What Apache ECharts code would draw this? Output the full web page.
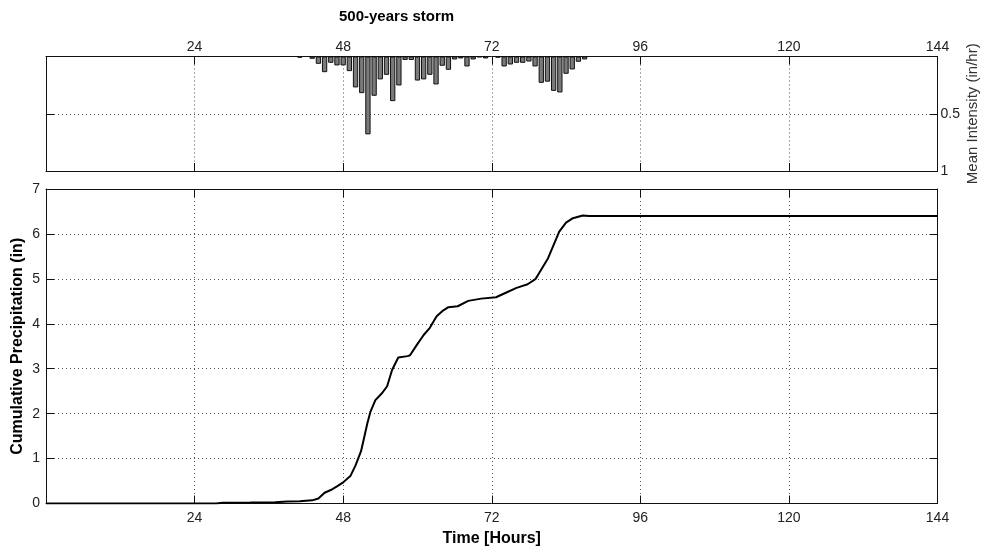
<!DOCTYPE html>
<html>
<head>
<meta charset="utf-8">
<script src="https://cdn.jsdelivr.net/npm/echarts@6/dist/echarts.min.js"></script>
<style>
html,body{margin:0;padding:0;background:#fff;}
#chart{width:985px;height:551px;}
</style>
</head>
<body>
<div id="chart"></div>
<script>
// ---- data ----
const titleText = '500-years storm';
const xTicks = [0, 24, 48, 72, 96, 120, 144];
// hourly mean intensity bars (in/hr)
const barHours = [41, 43, 44, 45, 46, 47, 48, 49, 50, 51, 52, 53, 54, 55, 56, 57, 58, 59, 60, 61, 62, 63, 64, 65, 66, 67, 68, 69, 70, 71, 73, 74, 75, 76, 77, 78, 79, 80, 81, 82, 83, 84, 85, 86, 87];
const barIntensity = [0.01, 0.02, 0.064, 0.137, 0.055, 0.078, 0.078, 0.128, 0.27, 0.32, 0.68, 0.343, 0.2, 0.16, 0.39, 0.253, 0.03, 0.03, 0.21, 0.2, 0.16, 0.244, 0.081, 0.116, 0.026, 0.017, 0.087, 0.026, 0.006, 0.017, 0.01, 0.087, 0.07, 0.055, 0.055, 0.044, 0.087, 0.23, 0.22, 0.3, 0.314, 0.151, 0.113, 0.046, 0.026];
// cumulative precipitation curve (in)
const cumHours = [0, 27.5, 28.5, 33, 37, 39, 41, 43, 44, 45, 46, 47, 48, 49.2, 50, 50.9, 51.9, 52.4, 53.2, 54.3, 55.1, 55.9, 56.9, 58.4, 58.8, 59.9, 61, 62, 63.1, 64, 65, 66.5, 68.2, 70.3, 72.7, 74.1, 76, 77.8, 79.1, 81.1, 82.9, 84, 85.1, 86.7, 87.7, 144];
const cumPrecip = [0, 0, 0.015, 0.02, 0.03, 0.045, 0.05, 0.07, 0.11, 0.24, 0.3, 0.38, 0.47, 0.62, 0.85, 1.17, 1.78, 2.04, 2.3, 2.46, 2.61, 2.97, 3.25, 3.28, 3.3, 3.53, 3.75, 3.91, 4.17, 4.28, 4.37, 4.39, 4.51, 4.56, 4.59, 4.68, 4.8, 4.88, 5.0, 5.46, 6.05, 6.25, 6.35, 6.41, 6.4, 6.4];

// ---- chart ----
const FONT = "'Liberation Sans', Arial, sans-serif";
const txt = '#222';
const gridLine = {show: true, lineStyle: {color: '#555', type: [1, 3], width: 1}};
const axLine = {show: true, onZero: false, lineStyle: {color: '#111', width: 1}};
const tick = {show: true, inside: true, length: 8, lineStyle: {color: '#111', width: 1}};
const lbl = {color: txt, fontFamily: FONT, fontSize: 14};
const hideZero = v => (v === 0 ? '' : String(v));

const chart = echarts.init(document.getElementById('chart'), null, {renderer: 'canvas'});
const xCommon = {type: 'value', min: xTicks[0], max: xTicks[xTicks.length - 1], interval: 24};

chart.setOption({
  animation: false,
  backgroundColor: '#fff',
  graphic: [{
    type: 'text', left: 339, top: 9,
    style: {text: titleText, font: "bold 15px " + FONT, fill: '#000'}
  }],
  grid: [
    {left: 46, width: 891.5, top: 56.5, height: 114.5, containLabel: false, outerBoundsMode: 'none'},
    {left: 46, width: 891.5, top: 189, height: 314.5, containLabel: false, outerBoundsMode: 'none'}
  ],
  xAxis: [
    Object.assign({}, xCommon, {gridIndex: 0, position: 'top', axisLine: axLine, axisTick: tick,
      axisLabel: Object.assign({}, lbl, {margin: 2, formatter: hideZero}), splitLine: gridLine}),
    Object.assign({}, xCommon, {gridIndex: 0, position: 'bottom', axisLine: axLine, axisTick: tick,
      axisLabel: {show: false}, splitLine: {show: false}}),
    Object.assign({}, xCommon, {gridIndex: 1, position: 'bottom', axisLine: axLine, axisTick: tick,
      axisLabel: Object.assign({}, lbl, {margin: 8, formatter: hideZero}), splitLine: gridLine,
      name: 'Time [Hours]', nameLocation: 'middle', nameGap: 27,
      nameTextStyle: {color: '#000', fontFamily: FONT, fontSize: 16, fontWeight: 'bold'}}),
    Object.assign({}, xCommon, {gridIndex: 1, position: 'top', axisLine: axLine, axisTick: tick,
      axisLabel: {show: false}, splitLine: {show: false}})
  ],
  yAxis: [
    {type: 'value', gridIndex: 0, position: 'right', inverse: true, min: 0, max: 1, interval: 0.5,
      axisLine: axLine, axisTick: tick, splitLine: gridLine,
      axisLabel: Object.assign({}, lbl, {margin: 3, formatter: hideZero}),
      name: 'Mean Intensity (in/hr)', nameLocation: 'middle', nameRotate: 90, nameGap: 28,
      nameMoveOverlap: false,
      nameTextStyle: {color: '#333', fontFamily: FONT, fontSize: 15}},
    {type: 'value', gridIndex: 0, position: 'left', inverse: true, min: 0, max: 1, interval: 0.5,
      axisLine: axLine, axisTick: tick, splitLine: {show: false}, axisLabel: {show: false}},
    {type: 'value', gridIndex: 1, position: 'left', min: 0, max: 7, interval: 1,
      axisLine: axLine, axisTick: tick, splitLine: gridLine,
      axisLabel: Object.assign({}, lbl, {margin: 6}),
      name: 'Cumulative Precipitation (in)', nameLocation: 'middle', nameRotate: 90, nameGap: 20,
      nameMoveOverlap: false,
      nameTextStyle: {color: '#000', fontFamily: FONT, fontSize: 16, fontWeight: 'bold'}},
    {type: 'value', gridIndex: 1, position: 'right', min: 0, max: 7, interval: 1,
      axisLine: axLine, axisTick: tick, splitLine: {show: false}, axisLabel: {show: false}}
  ],
  series: [
    {type: 'bar', xAxisIndex: 0, yAxisIndex: 0, barWidth: 5.3,
      itemStyle: {color: '#7a7a7a', borderColor: '#111', borderWidth: 1},
      data: barHours.map((h, i) => [h, barIntensity[i]])},
    {type: 'line', xAxisIndex: 2, yAxisIndex: 2, showSymbol: false, smooth: false,
      lineStyle: {color: '#000', width: 2},
      data: cumHours.map((h, i) => [h, cumPrecip[i]])}
  ]
});
</script>
</body>
</html>
